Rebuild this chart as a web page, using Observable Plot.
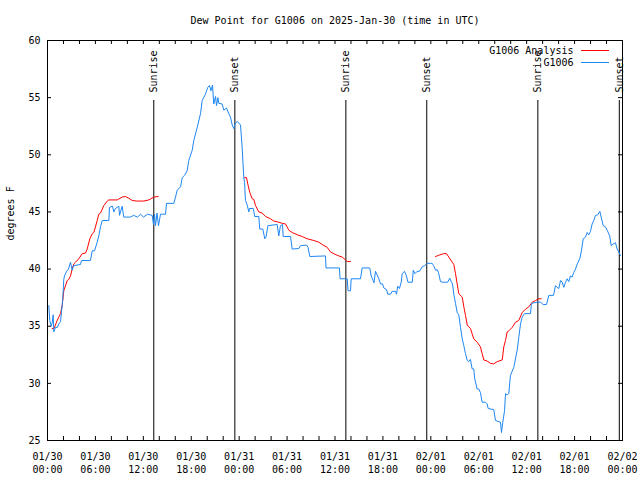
<!DOCTYPE html>
<html><head><meta charset="utf-8">
<script src="https://cdn.jsdelivr.net/npm/d3@7"></script>
<script src="https://cdn.jsdelivr.net/npm/@observablehq/plot@0.6"></script>
<style>body{margin:0;background:#fff} svg{display:block}</style>
</head><body><div id="chart"></div>
<script>
const titleText = "Dew Point for G1006 on 2025-Jan-30 (time in UTC)";
const yLabel = "degrees F";
const seriesNames = ["G1006 Analysis", "G1006"];
const seriesColors = ["#ff0000", "#1e86f2"];

const tickHours = [0, 6, 12, 18, 24, 30, 36, 42, 48, 54, 60, 66, 72];
const tickDates = ["01/30","01/30","01/30","01/30","01/31","01/31","01/31","01/31","02/01","02/01","02/01","02/01","02/02"];
const tickTimes = ["00:00","06:00","12:00","18:00","00:00","06:00","12:00","18:00","00:00","06:00","12:00","18:00","00:00"];
const minorTickHours = [0,2,4,6,8,10,12,14,16,18,20,22,24,26,28,30,32,34,36,38,40,42,44,46,48,50,52,54,56,58,60,62,64,66,68,70,72];
const yTicks = [25, 30, 35, 40, 45, 50, 55, 60];

const eventHours = [13.31, 23.46, 37.36, 47.49, 61.4, 71.6];
const eventLabels = ["Sunrise", "Sunset", "Sunrise", "Sunset", "Sunrise", "Sunset"];

// G1006 observations (hours since 01/30 00:00 UTC)
const obsHours = [0.16,0.29,0.46,0.59,0.71,0.79,1.0,1.25,1.41,1.63,1.75,1.92,2.04,2.13,2.38,2.63,2.88,3.09,3.26,4.13,4.26,5.38,5.6,5.89,6.22,6.42,6.64,6.85,7.68,7.76,8.14,8.3,8.51,8.93,9.02,9.14,9.35,9.55,10.39,10.77,11.27,11.65,12.02,12.52,13.11,13.27,13.4,13.52,13.71,13.9,14.15,14.78,14.9,15.82,16.03,16.24,16.66,16.87,17.16,17.49,17.69,18.12,18.32,18.75,19.16,19.37,19.78,20.07,20.28,20.47,20.66,20.82,21.04,21.16,21.33,21.45,21.87,22.08,22.41,22.7,22.91,23.13,23.33,23.54,23.79,24.17,24.38,24.58,24.67,24.79,25.01,25.21,25.29,25.75,25.85,25.95,26.46,26.58,26.96,27.21,27.36,27.6,28.76,28.96,29.17,29.43,29.51,30.43,30.64,31.47,31.68,32.43,32.62,32.85,34.81,34.87,36.56,36.63,37.53,37.63,37.94,38.03,39.19,39.4,40.35,40.53,40.78,40.88,41.07,41.26,41.49,41.7,41.95,42.11,42.45,42.61,42.95,43.16,43.57,43.7,43.86,44.07,44.29,44.41,44.7,44.95,45.13,45.68,45.8,46.02,46.29,46.58,46.92,47.21,47.55,47.96,48.17,48.34,48.59,48.8,48.96,49.21,49.42,50.12,50.37,50.59,50.71,50.88,51.09,51.3,51.5,51.72,51.93,52.13,52.34,52.56,52.76,52.96,53.17,53.37,53.5,53.8,54.0,54.21,54.43,54.84,55.05,55.18,55.88,56.1,56.72,56.85,57.01,57.23,57.35,57.56,57.76,57.97,58.39,58.81,59.01,59.23,59.44,59.72,60.48,60.6,61.32,61.73,62.07,62.49,62.77,63.36,63.61,63.82,64.03,64.24,64.45,64.65,64.86,65.07,65.27,65.48,65.69,65.9,66.11,66.33,66.65,66.83,67.08,67.37,67.58,67.78,67.99,68.2,68.4,68.62,68.91,69.16,69.33,69.58,69.87,70.08,70.4,70.58,70.83,71.12,71.33,71.53,71.74];
const obsValues = [36.8,35.5,35.0,35.3,36.0,34.5,34.9,34.9,35.2,35.4,36.2,37.5,39.1,39.4,39.8,40.0,40.6,39.9,40.3,40.4,40.75,40.75,41.6,41.6,42.35,42.9,43.7,44.25,44.25,45.4,45.5,45.0,45.3,45.5,44.7,45.0,45.5,44.55,44.55,44.7,44.55,44.8,44.55,44.8,44.7,43.9,44.8,43.8,44.9,43.8,44.8,44.8,45.75,45.75,46.3,46.9,47.2,48.0,48.2,48.6,49.5,50.4,51.25,52.4,53.6,54.75,55.3,55.9,56.06,55.6,56.1,54.45,55.1,54.3,55.0,54.5,54.45,53.9,54.1,53.6,53.3,52.6,52.3,52.8,52.9,52.6,50.6,48.0,47.6,46.0,45.6,45.0,45.3,45.3,45.0,44.6,44.6,43.5,43.5,42.65,42.8,43.8,43.9,42.9,43.8,43.9,42.85,42.85,41.75,41.8,42.05,42.1,41.9,41.1,41.15,40.1,40.1,39.15,39.15,38.1,38.1,39.15,39.15,40.1,40.1,39.4,39.0,38.8,39.8,39.5,39.15,38.7,38.7,38.35,38.2,37.8,37.8,38.05,38.05,37.8,38.5,38.3,38.85,39.6,39.8,39.4,38.85,38.85,39.9,39.6,39.8,39.8,40.2,40.3,40.5,40.5,40.5,40.3,39.9,39.95,39.7,38.9,38.85,38.85,39.2,38.85,38.7,37.8,37.0,36.2,36.0,34.9,33.9,33.3,32.6,32.0,31.9,32.1,31.27,31.27,30.4,29.5,29.5,29.2,28.35,28.35,28.2,27.8,27.7,26.75,26.6,25.7,26.6,27.6,29.1,29.0,29.1,30.7,31.4,32.9,34.0,35.2,35.8,36.1,36.1,37.0,37.1,37.1,36.9,36.9,37.7,37.7,38.55,38.4,38.3,39.0,38.85,38.4,38.85,39.15,38.9,39.4,39.3,39.7,40.0,40.45,40.9,41.5,42.65,42.8,43.2,43.0,43.3,43.95,44.25,44.7,44.75,45.05,44.55,43.8,43.7,43.4,42.9,42.05,42.2,42.3,41.75,41.5,41.2];

// G1006 Analysis (null = gap)
const anaHours = [0.59,0.81,1.21,1.41,1.63,1.84,2.04,2.47,2.67,2.88,3.09,3.29,3.51,3.92,4.35,4.76,4.97,5.3,5.6,5.8,6.01,6.22,6.42,6.64,7.05,7.48,7.68,8.73,9.35,9.77,10.18,10.61,11.23,12.06,12.69,13.31,13.86,19.0,24.67,24.92,25.08,25.33,25.63,25.83,26.05,26.46,26.88,27.3,27.92,28.34,28.96,29.39,29.8,30.22,30.64,31.27,31.89,32.52,33.35,33.97,34.4,35.02,35.44,35.85,36.28,36.9,37.32,37.53,37.94,43.0,48.59,48.96,49.62,49.96,50.25,50.68,50.88,51.09,51.3,51.5,51.93,52.13,52.34,52.56,52.96,53.17,53.37,53.8,54.21,54.43,54.63,55.05,55.46,55.88,56.3,56.94,57.14,57.35,57.56,57.76,58.19,58.6,59.01,59.44,59.86,60.27,60.69,61.11,61.52,61.82];
const anaValues = [34.8,34.8,35.5,35.8,36.1,36.8,38.1,39.0,39.1,39.4,40.0,40.45,40.6,40.9,41.35,41.4,41.75,42.65,43.1,43.2,43.7,44.25,44.8,44.9,45.55,45.95,46.05,46.05,46.3,46.35,46.2,46.0,45.95,45.95,46.05,46.3,46.35,null,48.0,48.0,47.45,46.7,46.15,46.1,45.55,45.0,44.9,44.6,44.4,44.2,44.1,44.0,43.95,43.4,43.2,43.0,42.85,42.65,42.5,42.35,42.15,41.9,41.5,41.35,41.2,41.05,40.8,40.66,40.66,null,41.1,41.2,41.35,41.35,41.05,40.6,40.4,39.6,38.7,37.85,37.55,36.7,35.95,35.1,34.8,34.35,33.9,33.6,33.2,32.6,32.05,31.95,31.75,31.7,31.9,32.05,33.2,33.75,34.5,34.6,34.9,35.35,35.5,36.2,36.5,36.7,37.1,37.25,37.4,37.4];

const obs = obsHours.map((h, i) => ({h, v: obsValues[i]}));
const ana = anaHours.map((h, i) => ({h, v: anaValues[i]}));
const events = eventHours.map((h, i) => ({h, label: eventLabels[i]}));

const W = 640, H = 480, mL = 47, mR = 18, mT = 40, mB = 40;
const frameW = W - mL - mR, frameH = H - mT - mB, tickLen = 4;
const yDomain = [25, 60];
const eventTop = yDomain[0] + 0.85 * (yDomain[1] - yDomain[0]);
const eventLabelY = yDomain[0] + 0.87 * (yDomain[1] - yDomain[0]);

const plot = Plot.plot({
  width: W, height: H,
  marginLeft: mL, marginRight: mR, marginTop: mT, marginBottom: mB,
  style: {fontFamily: "'DejaVu Sans Mono', monospace", fontSize: "10px", color: "black", background: "white"},
  x: {domain: [0, 72], axis: null},
  y: {domain: yDomain, axis: null},
  marks: [
    Plot.ruleX(events, {x: "h", y1: yDomain[0], y2: eventTop, stroke: "black", strokeWidth: 1}),
    Plot.text(events, {x: "h", y: eventLabelY, text: "label", rotate: -90, textAnchor: "start", lineAnchor: "middle", fill: "black"}),
    Plot.line(ana, {x: "h", y: "v", stroke: seriesColors[0], strokeWidth: 1}),
    Plot.line(obs, {x: "h", y: "v", stroke: seriesColors[1], strokeWidth: 1}),
    Plot.frame({stroke: "black", strokeWidth: 1}),
    // inward tick marks on all four sides
    Plot.ruleX(minorTickHours, {x: d => d, insetTop: frameH - tickLen, stroke: "black"}),
    Plot.ruleX(minorTickHours, {x: d => d, insetBottom: frameH - tickLen, stroke: "black"}),
    Plot.ruleY(yTicks, {y: d => d, insetRight: frameW - tickLen, stroke: "black"}),
    Plot.ruleY(yTicks, {y: d => d, insetLeft: frameW - tickLen, stroke: "black"}),
    Plot.text(tickHours, {x: d => d, text: (d, i) => tickDates[i] + "\n" + tickTimes[i], frameAnchor: "bottom", lineAnchor: "top", dy: 10, lineHeight: 1.3, fill: "black"}),
    Plot.text(yTicks, {y: d => d, text: d => String(d), frameAnchor: "left", textAnchor: "end", lineAnchor: "middle", dx: -7, fill: "black"}),
    Plot.text([titleText], {frameAnchor: "top", lineAnchor: "middle", dy: -20, fill: "black"}),
    Plot.text([yLabel], {frameAnchor: "left", lineAnchor: "middle", dx: -36.5, rotate: -90, fill: "black"}),
    Plot.text([seriesNames[0]], {frameAnchor: "top-right", lineAnchor: "middle", dx: -49, dy: 10, textAnchor: "end", fill: "black"}),
    Plot.text([seriesNames[1]], {frameAnchor: "top-right", lineAnchor: "middle", dx: -49, dy: 22.5, textAnchor: "end", fill: "black"})
  ]
});

// legend swatches, positioned relative to the frame
const svg = d3.select(plot);
const fr = W - mR;
[[mT + 10.5, seriesColors[0]], [mT + 22.5, seriesColors[1]]].forEach(([y, c]) => {
  svg.append("line").attr("x1", fr - 41).attr("x2", fr - 13).attr("y1", y).attr("y2", y)
     .attr("stroke", c).attr("stroke-width", 1);
});
document.getElementById("chart").appendChild(plot);
</script>
</body></html>
